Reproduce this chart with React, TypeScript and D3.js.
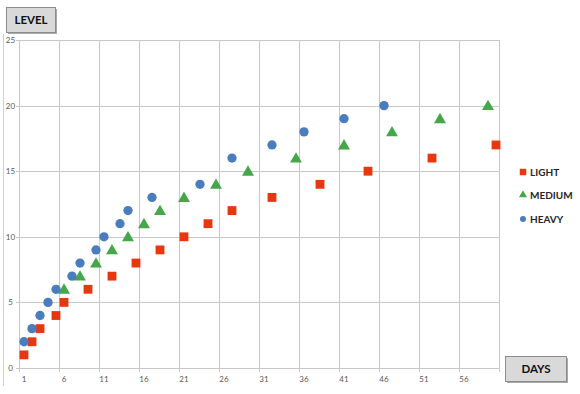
import React, { useEffect, useRef } from 'react';
import * as d3 from 'd3';

// days (x) and level (y) for each series
const lightDays = [1, 2, 3, 5, 6, 9, 12, 15, 18, 21, 24, 27, 32, 38, 44, 52, 60];
const lightLevels = [1, 2, 3, 4, 5, 6, 7, 8, 9, 10, 11, 12, 13, 14, 15, 16, 17];
const mediumDays = [6, 8, 10, 12, 14, 16, 18, 21, 25, 29, 35, 41, 47, 53, 59];
const mediumLevels = [6, 7, 8, 9, 10, 11, 12, 13, 14, 15, 16, 17, 18, 19, 20];
const heavyDays = [1, 2, 3, 4, 5, 7, 8, 10, 11, 13, 14, 17, 23, 27, 32, 36, 41, 46];
const heavyLevels = [2, 3, 4, 5, 6, 7, 8, 9, 10, 11, 12, 13, 14, 16, 17, 18, 19, 20];

const xTicks = [1, 6, 11, 16, 21, 26, 31, 36, 41, 46, 51, 56];
const yTicks = [0, 5, 10, 15, 20, 25];

const seriesNames = ['LIGHT', 'MEDIUM', 'HEAVY'];
const colors = ['#e8360f', '#45a64a', '#4a7dbd'];
const shapes = [d3.symbolSquare, d3.symbolTriangle, d3.symbolCircle];
const sizes = [78, 62, 68];

export default function App() {
  const ref = useRef<SVGSVGElement>(null);

  useEffect(() => {
    const svg = d3.select(ref.current);
    svg.selectAll('*').remove();

    const W = 580, H = 394;
    const left = 20, right = 500, top = 40, bottom = 368;

    // category-like axis: each day takes one slot, labels in the slot middle
    const x = d3.scaleLinear().domain([0.5, 60.5]).range([left, right]);
    const y = d3.scaleLinear().domain([0, 25]).range([bottom, top]);

    svg.attr('width', W).attr('height', H);
    svg.append('rect').attr('width', W).attr('height', H).attr('fill', '#fff');

    // outer frame line on the left
    svg.append('line')
      .attr('x1', 3.5).attr('x2', 3.5).attr('y1', 34).attr('y2', 386)
      .attr('stroke', '#d0d0d0');

    const grid = svg.append('g').attr('stroke', '#c8c8c8').attr('stroke-width', 1);
    // vertical gridlines at slot boundaries every 5 days
    d3.range(0.5, 61, 5).forEach(v => {
      grid.append('line')
        .attr('x1', Math.round(x(v)) - 0.5).attr('x2', Math.round(x(v)) - 0.5)
        .attr('y1', top).attr('y2', bottom + 4);
    });
    yTicks.forEach(v => {
      grid.append('line')
        .attr('x1', left - 4).attr('x2', right - 1)
        .attr('y1', Math.round(y(v)) + 0.5).attr('y2', Math.round(y(v)) + 0.5);
    });

    svg.append('g')
      .attr('font-family', 'Lato, sans-serif').attr('font-size', 8).attr('fill', '#595959')
      .attr('text-anchor', 'middle')
      .selectAll('text').data(xTicks).join('text')
      .attr('x', d => x(d)).attr('y', bottom + 14)
      .text(d => d);

    svg.append('g')
      .attr('font-family', 'Lato, sans-serif').attr('font-size', 8).attr('fill', '#595959')
      .attr('text-anchor', 'middle')
      .selectAll('text').data(yTicks).join('text')
      .attr('x', 10.5).attr('y', d => y(d) + 3)
      .text(d => d);

    const series = [
      { days: lightDays, levels: lightLevels },
      { days: mediumDays, levels: mediumLevels },
      { days: heavyDays, levels: heavyLevels },
    ];

    series.forEach((s, i) => {
      const sym = d3.symbol().type(shapes[i]).size(sizes[i]);
      svg.append('g')
        .selectAll('path').data(s.days).join('path')
        .attr('d', sym)
        .attr('transform', (d, j) => `translate(${x(d)},${y(s.levels[j]) + (i === 1 ? 1 : 0)})`)
        .attr('fill', colors[i]);
    });

    // legend
    const legend = svg.append('g');
    const legendY = [172, 195, 219];
    seriesNames.forEach((name, i) => {
      const sym = d3.symbol().type(shapes[i]).size([42, 28, 28][i]);
      legend.append('path')
        .attr('d', sym)
        .attr('transform', `translate(523,${legendY[i]})`)
        .attr('fill', colors[i]);
      legend.append('text')
        .attr('x', 530).attr('y', legendY[i] + 3.5)
        .attr('font-family', 'Lato, sans-serif').attr('font-weight', 'bold')
        .attr('font-size', 10).attr('fill', '#262626')
        .text(name);
    });

    // axis title boxes
    const boxes = [
      { label: 'LEVEL', x: 6, y: 7, w: 49, h: 25 },
      { label: 'DAYS', x: 505, y: 356, w: 61, h: 25 },
    ];
    boxes.forEach(b => {
      svg.append('rect')
        .attr('x', b.x + 2).attr('y', b.y + 2).attr('width', b.w).attr('height', b.h)
        .attr('fill', '#a8a8a8');
      svg.append('rect')
        .attr('x', b.x + 0.5).attr('y', b.y + 0.5).attr('width', b.w).attr('height', b.h)
        .attr('fill', '#d9d9d9').attr('stroke', '#8c8c8c');
      svg.append('text')
        .attr('x', b.x + b.w / 2 + 0.5).attr('y', b.y + b.h / 2 + 4)
        .attr('text-anchor', 'middle')
        .attr('font-family', 'Lato, sans-serif').attr('font-weight', 'bold')
        .attr('font-size', 11.5).attr('fill', '#111')
        .text(b.label);
    });
  }, []);

  return (
    <div style={{ position: 'absolute', left: 0, top: 0 }}>
      <svg ref={ref} style={{ display: 'block' }} />
    </div>
  );
}
